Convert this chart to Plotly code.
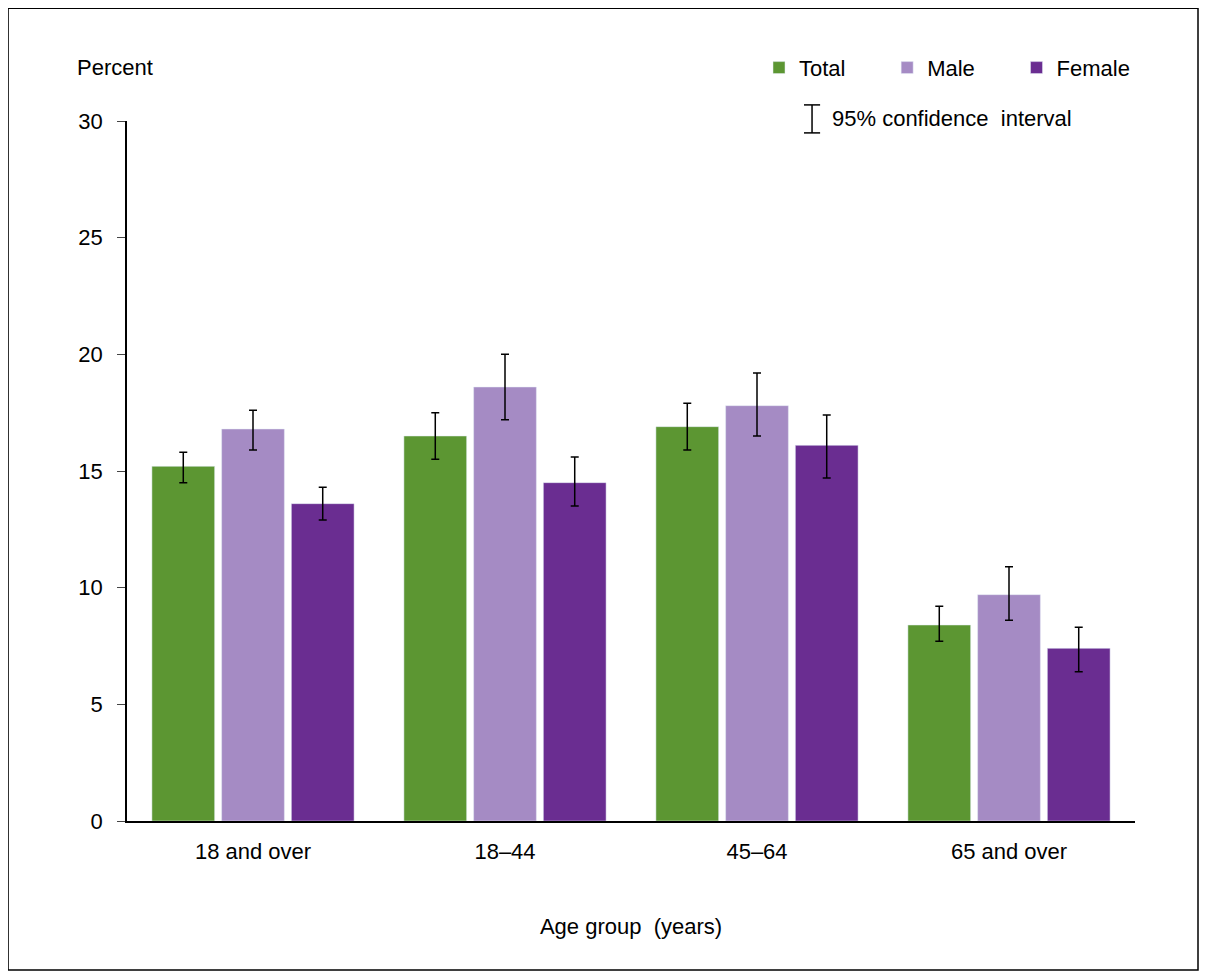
import plotly.graph_objects as go

groups = ["18 and over", "18–44", "45–64", "65 and over"]
total = [15.2, 16.5, 16.9, 8.4]
total_hi = [15.8, 17.5, 17.9, 9.2]
total_lo = [14.5, 15.5, 15.9, 7.7]
male = [16.8, 18.6, 17.8, 9.7]
male_hi = [17.6, 20.0, 19.2, 10.9]
male_lo = [15.9, 17.2, 16.5, 8.6]
female = [13.6, 14.5, 16.1, 7.4]
female_hi = [14.3, 15.6, 17.4, 8.3]
female_lo = [12.9, 13.5, 14.7, 6.4]

fig = go.Figure()
for name, v, hi, lo, col in [
    ("Total", total, total_hi, total_lo, "#5c9632"),
    ("Male", male, male_hi, male_lo, "#a58bc4"),
    ("Female", female, female_hi, female_lo, "#6a2d91"),
]:
    fig.add_trace(go.Bar(
        x=groups, y=v, name=name + "      " if name != "Female" else name,
        marker_color=col,
        error_y=dict(type="data", symmetric=False,
                     array=[h - a for h, a in zip(hi, v)],
                     arrayminus=[a - l for a, l in zip(v, lo)],
                     color="black", thickness=1.5, width=4),
    ))

font = dict(family="Liberation Sans, Arial", size=22, color="black")
fig.update_layout(
    width=1207, height=979, barmode="group", bargap=0.17, bargroupgap=0.1,
    plot_bgcolor="white", paper_bgcolor="white", font=font,
    margin=dict(l=119, r=80, t=113, b=166),
    legend=dict(orientation="h", x=1.0, xanchor="right", y=1.076, yanchor="middle",
                font=font, itemwidth=30, traceorder="normal"),
    xaxis=dict(showline=True, linecolor="black", linewidth=1.5, ticks="",
               tickfont=font, ticklabelstandoff=10,
               title=dict(text="Age group  (years)", standoff=55, font=font)),
    yaxis=dict(range=[0, 30], dtick=5, showline=True, linecolor="black",
               linewidth=1.5, ticks="outside", ticklen=8, showgrid=False,
               zeroline=False, tickfont=font, ticklabelstandoff=10),
    shapes=[
        dict(type="rect", xref="paper", yref="paper", x0=-0.118, x1=1.0625,
             y0=-0.213, y1=1.161, line=dict(color="black", width=1.5)),
        dict(type="line", xref="paper", yref="paper", x0=0.6796, x1=0.6796,
             y0=0.983, y1=1.023, line=dict(color="black", width=1.5)),
        dict(type="line", xref="paper", yref="paper", x0=0.6716, x1=0.6876,
             y0=1.023, y1=1.023, line=dict(color="black", width=1.5)),
        dict(type="line", xref="paper", yref="paper", x0=0.6716, x1=0.6876,
             y0=0.983, y1=0.983, line=dict(color="black", width=1.5)),
    ],
    annotations=[
        dict(text="Percent", xref="paper", yref="paper", x=-0.052, y=1.076,
             xanchor="left", yanchor="middle", showarrow=False, font=font),
        dict(text="95% confidence  interval", xref="paper", yref="paper",
             x=0.697, y=1.003, xanchor="left", yanchor="middle",
             showarrow=False, font=font),
    ],
)
fig.write_html("out.html")
